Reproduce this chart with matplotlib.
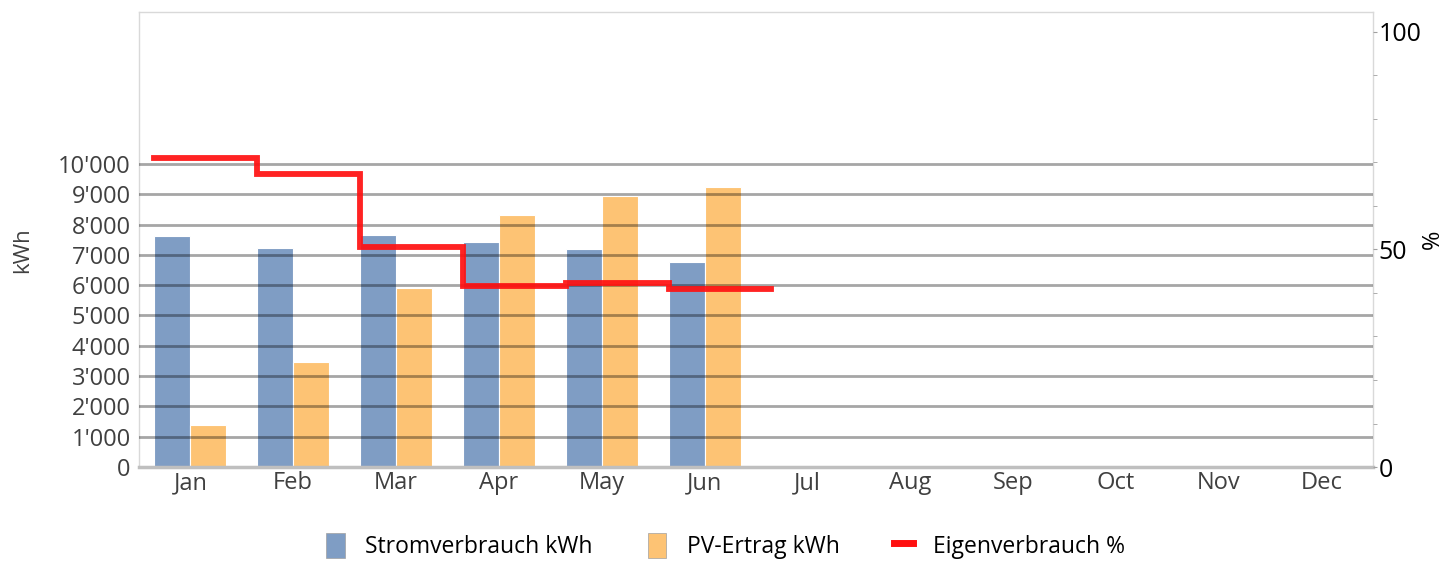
import numpy as np
import matplotlib
matplotlib.use("Agg")
import matplotlib.pyplot as plt
from matplotlib.ticker import FuncFormatter, MultipleLocator
from matplotlib.patches import Patch
from matplotlib.lines import Line2D

plt.rcParams['font.family'] = ['Open Sans', 'DejaVu Sans']

# Data
months = ['Jan', 'Feb', 'Mar', 'Apr', 'May', 'Jun',
          'Jul', 'Aug', 'Sep', 'Oct', 'Nov', 'Dec']
strom = [7620, 7220, 7640, 7440, 7180, 6750]      # Stromverbrauch kWh
pv = [1385, 3460, 5900, 8300, 8935, 9240]         # PV-Ertrag kWh
eigen = [71.0, 67.3, 50.5, 41.5, 42.2, 41.0]      # Eigenverbrauch %

blue = '#7F9DC4'
orange = '#FDC374'
red = '#FF1010'
txt = '#404040'

fig = plt.figure(figsize=(14.43, 5.63), dpi=100)
ax = fig.add_axes([0.0963, 0.1705, 0.8552, 0.8075])
ax2 = ax.twinx()

n = len(strom)
x = np.arange(n)
w = 0.35

ax.bar(x - w / 2, strom, width=w, color=blue, edgecolor='white',
       linewidth=0.8, zorder=2)
ax.bar(x + w / 2, pv, width=w, color=orange, edgecolor='white',
       linewidth=0.8, zorder=2)

# gridlines drawn over the bars
for g in range(1000, 11000, 1000):
    ax.axhline(g, color='black', alpha=0.35, lw=2, zorder=3)

ax.set_xlim(-0.5, len(months) - 0.5)
ax.set_ylim(0, 15000)
ax.set_yticks(range(0, 11000, 1000))
ax.yaxis.set_major_formatter(FuncFormatter(lambda v, p: f"{int(v):,}".replace(',', "'")))
ax.set_xticks(np.arange(len(months)))
ax.set_xticklabels(months)
ax.tick_params(axis='y', length=0, labelsize=17, labelcolor=txt, pad=6)
ax.tick_params(axis='x', length=0, labelsize=17, labelcolor=txt, pad=3)

for s in ['left', 'top', 'right']:
    ax.spines[s].set_color('#D9D9D9')
    ax.spines[s].set_linewidth(1)
ax.spines['bottom'].set_color('#BFBFBF')
ax.spines['bottom'].set_linewidth(2.5)

# step line for self-consumption, from left of each bar group
xs = np.append(x - w, x[-1] + 1 - w)
ys = np.append(eigen, eigen[-1])
ax2.step(xs, ys, where='post', color=red, lw=4.2, alpha=0.92,
         solid_joinstyle='miter', zorder=5)
ax2.set_ylim(0, 104.5)
ax2.set_yticks([0, 50, 100])
ax2.yaxis.set_minor_locator(MultipleLocator(10))
ax2.tick_params(axis='y', which='major', length=3, color='#A0A0A0',
                labelsize=18, labelcolor='black', pad=1)
ax2.tick_params(axis='y', which='minor', length=3, color='#A0A0A0')
for s in ['left', 'top', 'right', 'bottom']:
    ax2.spines[s].set_visible(False)

fig.text(0.016, 0.555, 'kWh', rotation=90, fontsize=16, color=txt,
         ha='center', va='center')
fig.text(0.993, 0.575, '%', rotation=90, fontsize=17, color='black',
         ha='center', va='center')

handles = [Patch(facecolor=blue, edgecolor='#A0A0A0', lw=0.5),
           Patch(facecolor=orange, edgecolor='#A0A0A0', lw=0.5),
           Line2D([0], [0], color=red, lw=5)]
labels = ['Stromverbrauch kWh', 'PV-Ertrag kWh', 'Eigenverbrauch %']
fig.legend(handles, labels, loc='lower center', ncol=3, frameon=False,
           fontsize=16.5, bbox_to_anchor=(0.503, -0.03), handlelength=0.8,
           handleheight=1.3, columnspacing=2.4, handletextpad=0.9)

fig.savefig('out.png', dpi=100)
